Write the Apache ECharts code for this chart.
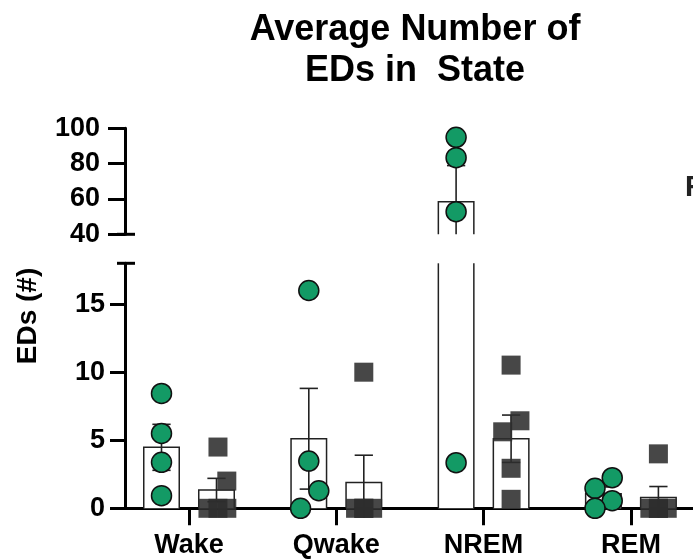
<!DOCTYPE html>
<html><head><meta charset="utf-8">
<script src="https://cdn.jsdelivr.net/npm/echarts@6/dist/echarts.min.js"></script>
<style>html,body{margin:0;padding:0;background:#fff}#c{width:693px;height:560px}</style>
</head><body><div id="c"></div>
<script>
// ---- data ----
const categories = ['Wake', 'Qwake', 'NREM', 'REM'];
const greenMean = [4.48, 5.11, 58.4, 1.07];
const greenSem = [1.69, 3.7, 20.5, 0.5];
const greyMean = [1.34, 1.9, 5.11, 0.8];
const greySem = [0.86, 2.0, 1.74, 0.8];
const greenPoints = [[8.44, 5.5, 3.38, 0.93], [16.0, 3.47, 1.29, 0], [94.9, 83.4, 52.8, 3.35], [1.47, 2.25, 0.56, 0]];
const greenJitter = [[0, 0, 0, 0], [0, 0, 0.068, -0.056], [0, 0, 0, 0], [-0.057, 0.06, 0.06, -0.057]];
const greyPoints = [[4.5, 2.0, 0, 0, 0], [10, 0, 0, 0, 0], [10.52, 6.43, 5.62, 2.94, 0.66], [4, 0, 0, 0, 0]];
const greyJitter = [[0.01, 0.07, -0.058, 0.01, 0.07], [0, -0.056, 0, 0.06, 0], [0, 0.06, -0.057, 0, 0], [0, -0.058, 0, 0.06, 0]];
const topTicks = [40, 60, 80, 100];
const bottomTicks = [0, 5, 10, 15];

// ---- layout / style ----
const XMIN = -0.4345, XMAX = 3.4216;
const OFF = 0.1867, HW = 0.1205, CAP = 0.062;
const TOP_RANGE = [40, 100], BOT_RANGE = [0, 18];
const GREEN = '#139a65', GREY = 'rgba(45,45,45,0.88)';
const FONT = '"Liberation Sans", Arial, sans-serif';

const chart = echarts.init(document.getElementById('c'));

function barSeries(gi, yr, means, side) {
  return {
    type: 'custom', xAxisIndex: gi, yAxisIndex: gi, z: 2,
    data: means.map((m, i) => [i, m]),
    renderItem: function (params, api) {
      const xc = api.value(0) + side * OFF, v = api.value(1);
      if (v <= yr[0]) return null;
      const top = Math.min(v, yr[1]);
      const a = api.coord([xc - HW, yr[0]]), b = api.coord([xc + HW, top]);
      const st = { stroke: '#222', lineWidth: 1.5, fill: null };
      const kids = [{ type: 'rect', shape: { x: a[0], y: b[1], width: b[0] - a[0], height: a[1] - b[1] }, style: { fill: '#fff' } }];
      if (v <= yr[1]) {
        kids.push({ type: 'polyline', shape: { points: [[a[0], a[1]], [a[0], b[1]], [b[0], b[1]], [b[0], a[1]]] }, style: st });
      } else {
        kids.push({ type: 'line', shape: { x1: a[0], y1: a[1], x2: a[0], y2: b[1] }, style: st });
        kids.push({ type: 'line', shape: { x1: b[0], y1: a[1], x2: b[0], y2: b[1] }, style: st });
      }
      return { type: 'group', children: kids };
    }
  };
}

function errSeries(gi, yr, means, sems, side) {
  return {
    type: 'custom', xAxisIndex: gi, yAxisIndex: gi, z: 3,
    data: means.map((m, i) => [i, m, sems[i]]),
    renderItem: function (params, api) {
      const xc = api.value(0) + side * OFF, m = api.value(1), s = api.value(2);
      const hi = m + s, lo = Math.max(m - s, 0);
      const y1 = Math.max(lo, yr[0]), y2 = Math.min(hi, yr[1]);
      const kids = [];
      const st = { stroke: '#222', lineWidth: 1.6 };
      if (y2 > y1) {
        const p1 = api.coord([xc, y1]), p2 = api.coord([xc, y2]);
        kids.push({ type: 'line', shape: { x1: p1[0], y1: p1[1], x2: p2[0], y2: p2[1] }, style: st });
      }
      [hi, lo].forEach(function (c) {
        if (c >= yr[0] && c <= yr[1]) {
          const l = api.coord([xc - CAP, c]), r = api.coord([xc + CAP, c]);
          kids.push({ type: 'line', shape: { x1: l[0], y1: l[1], x2: r[0], y2: r[1] }, style: st });
        }
      });
      return { type: 'group', children: kids };
    }
  };
}

function pointSeries(gi, yr, pts, jit, side, isGreen) {
  const data = [];
  pts.forEach(function (arr, i) {
    arr.forEach(function (v, k) {
      if (v >= yr[0] && v <= yr[1]) data.push([i + side * OFF + jit[i][k], v]);
    });
  });
  return {
    type: 'scatter', xAxisIndex: gi, yAxisIndex: gi, z: 4, clip: false,
    symbol: isGreen ? 'circle' : 'rect', symbolSize: isGreen ? 20 : 19,
    itemStyle: isGreen ? { color: GREEN, borderColor: '#111', borderWidth: 1.5, opacity: 1 } : { color: GREY, opacity: 1 },
    emphasis: { disabled: true },
    data: data
  };
}

function breakCap(gi, yVal) {
  return {
    type: 'custom', xAxisIndex: gi, yAxisIndex: gi, z: 5,
    data: [[XMIN, yVal]],
    renderItem: function (params, api) {
      const p = api.coord([api.value(0), api.value(1)]);
      return { type: 'line', shape: { x1: p[0] - 8, y1: p[1], x2: p[0] + 10, y2: p[1] }, style: { stroke: '#000', lineWidth: 3 } };
    }
  };
}

const labelStyle = { color: '#000', fontWeight: 'bold', fontFamily: FONT };

const option = {
  animation: false,
  backgroundColor: '#fff',
  title: {
    text: 'Average Number of\nEDs in  State',
    left: 410, top: 5, textAlign: 'center',
    textStyle: { fontSize: 36, fontWeight: 'bold', fontFamily: FONT, color: '#000', lineHeight: 41 }
  },
  grid: [
    { left: 125, top: 128.3, width: 568, height: 106 },
    { left: 125, top: 263.3, width: 568, height: 245 }
  ],
  xAxis: [
    { type: 'value', gridIndex: 0, min: XMIN, max: XMAX, show: false },
    {
      type: 'value', gridIndex: 1, min: XMIN, max: XMAX,
      axisLine: { show: true, onZero: false, lineStyle: { color: '#000', width: 3 } },
      axisTick: { show: true, customValues: [0, 1, 2, 3], length: 17, lineStyle: { color: '#000', width: 3 } },
      axisLabel: Object.assign({ customValues: [0, 1, 2, 3], fontSize: 27, margin: 24, formatter: function (v) { return categories[Math.round(v)]; } }, labelStyle),
      splitLine: { show: false }
    }
  ],
  yAxis: [
    {
      type: 'value', gridIndex: 0, min: TOP_RANGE[0], max: TOP_RANGE[1], interval: 20,
      axisLine: { show: true, onZero: false, lineStyle: { color: '#000', width: 3 } },
      axisTick: { show: true, customValues: topTicks, length: 17, lineStyle: { color: '#000', width: 3 } },
      axisLabel: Object.assign({ customValues: topTicks, fontSize: 27, margin: 25 }, labelStyle),
      splitLine: { show: false }
    },
    {
      type: 'value', gridIndex: 1, min: BOT_RANGE[0], max: BOT_RANGE[1], interval: 5,
      axisLine: { show: true, onZero: false, lineStyle: { color: '#000', width: 3 } },
      axisTick: { show: true, customValues: bottomTicks, length: 15, lineStyle: { color: '#000', width: 3 } },
      axisLabel: Object.assign({ customValues: bottomTicks, fontSize: 27, margin: 20 }, labelStyle),
      splitLine: { show: false }
    }
  ],
  graphic: [
    { type: 'text', x: 28, y: 316, rotation: Math.PI / 2,
      style: { text: 'EDs (#)', fill: '#000', font: 'bold 28px ' + FONT, align: 'center', verticalAlign: 'middle' } },
    { type: 'text', x: 685, y: 188,
      style: { text: 'F', fill: '#222', font: 'bold 29px ' + FONT, align: 'left', verticalAlign: 'middle' } }
  ],
  series: [
    barSeries(0, TOP_RANGE, greenMean, -1), barSeries(0, TOP_RANGE, greyMean, 1),
    barSeries(1, BOT_RANGE, greenMean, -1), barSeries(1, BOT_RANGE, greyMean, 1),
    errSeries(0, TOP_RANGE, greenMean, greenSem, -1), errSeries(0, TOP_RANGE, greyMean, greySem, 1),
    errSeries(1, BOT_RANGE, greenMean, greenSem, -1), errSeries(1, BOT_RANGE, greyMean, greySem, 1),
    pointSeries(0, TOP_RANGE, greenPoints, greenJitter, -1, true), pointSeries(0, TOP_RANGE, greyPoints, greyJitter, 1, false),
    pointSeries(1, BOT_RANGE, greenPoints, greenJitter, -1, true), pointSeries(1, BOT_RANGE, greyPoints, greyJitter, 1, false),
    breakCap(0, TOP_RANGE[0]), breakCap(1, BOT_RANGE[1])
  ]
};
chart.setOption(option);
</script>
</body></html>
